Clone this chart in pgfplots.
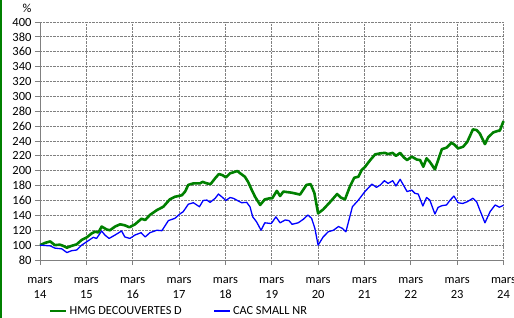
\documentclass[border=0pt]{standalone}
\usepackage{pgfplots}
\pgfplotsset{compat=1.18}
\usepackage{fontspec}
\setmainfont{Carlito}
\definecolor{hmg}{RGB}{0,128,0}
\definecolor{cac}{RGB}{0,0,255}
\definecolor{gridc}{RGB}{128,128,128}
\begin{document}
\begin{tikzpicture}[x=1bp,y=1bp]
\begin{axis}[
  name=ax,
  at={(40bp,58bp)}, anchor=south west,
  width=463.5bp, height=238bp, scale only axis=true,
  xmin=0, xmax=10, ymin=80, ymax=400,
  xtick={0,1,...,10},
  xticklabels={{mars\\14},{mars\\15},{mars\\16},{mars\\17},{mars\\18},{mars\\19},{mars\\20},{mars\\21},{mars\\22},{mars\\23},{mars\\24}},
  ytick={80,100,...,400},
  axis lines*=left,
  axis line style={gridc, line width=1bp},
  tick align=outside,
  major tick length=5bp,
  tick style={gridc, line width=0.8bp},
  grid=major,
  major grid style={gridc, densely dotted, line width=0.8bp},
  /pgf/number format/assume math mode=true,
  ticklabel style={font=\fontsize{12.5bp}{15bp}\selectfont, text=black},
  xticklabel style={align=center, yshift=-9bp},
  legend columns=2,
  legend style={draw=none, fill=none, at={(0.30,-0.214)}, anchor=center,
    font=\fontsize{12.3bp}{14bp}\selectfont, inner sep=0pt,
    /tikz/every even column/.append style={column sep=30bp}},
  legend image code/.code={\draw[#1] (0bp,0bp) -- (16bp,0bp);},
  clip=false,
]
\addplot[hmg, line width=2.6bp, line join=round] coordinates {
(0,100) (0.11,103) (0.22,105) (0.32,100) (0.43,100.6) (0.50,99) (0.58,96.5) (0.68,99) (0.79,101) (0.90,107)
(1.01,110.5) (1.12,116) (1.19,118) (1.26,117) (1.33,125) (1.44,121) (1.51,120) (1.62,125) (1.73,128) (1.83,126.6)
(1.93,124) (2.05,128) (2.19,135.5) (2.27,133.8) (2.37,140.5) (2.52,147) (2.66,151.6) (2.80,161.5) (2.91,165) (3.06,167)
(3.13,172) (3.20,181) (3.31,183) (3.45,183) (3.51,185) (3.60,183) (3.68,182) (3.78,190) (3.86,195.6) (3.94,194)
(4.01,191) (4.10,196.5) (4.21,198.7) (4.26,199.6) (4.31,197) (4.42,192) (4.49,185) (4.57,174) (4.64,165) (4.75,154)
(4.85,161.5) (4.96,163) (5.01,163) (5.11,173) (5.18,166) (5.25,172) (5.43,170.5) (5.61,168) (5.75,181) (5.84,182)
(5.92,170) (6.00,142.7) (6.11,148) (6.26,158) (6.41,168.7) (6.49,164) (6.58,161.5) (6.69,179.5) (6.78,190.6) (6.87,192)
(6.94,201) (7.01,205) (7.12,214) (7.23,222) (7.34,223.4) (7.44,224) (7.51,222.5) (7.61,224) (7.68,220) (7.77,224)
(7.85,218) (7.92,214.4) (8.02,219) (8.13,215) (8.20,214.4) (8.27,205.4) (8.34,216.7) (8.41,212) (8.52,201.8) (8.59,214.4)
(8.67,229) (8.77,231) (8.88,237.7) (8.95,234.6) (9.02,230) (9.13,232.3) (9.22,239) (9.34,255.6) (9.42,254.7) (9.49,250)
(9.60,235.8) (9.67,245) (9.78,251.6) (9.89,253.8) (9.92,253.8) (10.0,266.8)
};
\addlegendentry{HMG DECOUVERTES D}
\addplot[cac, line width=1.3bp, line join=round] coordinates {
(0,100) (0.22,99) (0.32,96) (0.47,95) (0.58,90) (0.68,92.5) (0.79,93.4) (0.90,100) (1.01,104.6) (1.15,110.5)
(1.22,109) (1.33,119) (1.40,113.6) (1.49,109) (1.62,113.6) (1.76,119) (1.83,111) (1.94,109) (2.05,113.6) (2.18,116.7)
(2.27,111) (2.37,116.7) (2.52,120) (2.63,119.4) (2.77,133) (2.91,136) (3.02,142) (3.09,145) (3.20,155) (3.31,157)
(3.44,151.6) (3.52,160) (3.60,160.6) (3.67,157.5) (3.78,163) (3.85,168.7) (3.94,164) (4.01,160) (4.10,164) (4.17,163)
(4.26,160) (4.35,157) (4.46,157.5) (4.53,151.6) (4.59,138) (4.67,131.5) (4.77,120) (4.85,130) (4.99,129) (5.09,138)
(5.18,130) (5.29,133.8) (5.37,133) (5.44,128) (5.57,130) (5.68,134.7) (5.78,140.5) (5.86,136) (5.93,122.6) (6.00,100)
(6.11,111) (6.22,118) (6.33,120) (6.44,125) (6.52,122.6) (6.60,118) (6.74,151.6) (6.87,160.6) (7.01,172) (7.16,182)
(7.26,177.7) (7.34,180.8) (7.43,186.6) (7.51,183) (7.61,186.6) (7.68,179.5) (7.77,188.5) (7.84,180.8) (7.92,172) (8.02,174)
(8.09,169.6) (8.16,168.7) (8.26,152.6) (8.34,164) (8.41,160.6) (8.52,141.8) (8.59,150.8) (8.67,153) (8.77,154) (8.85,160.6)
(8.93,166) (9.02,157) (9.12,156) (9.22,158.4) (9.34,163) (9.42,158.4) (9.49,147) (9.60,130) (9.71,145) (9.82,154)
(9.91,151) (10.0,153.5)
};
\addlegendentry{CAC SMALL NR}
\node[font=\fontsize{12.3bp}{14bp}\selectfont] at (rel axis cs:-0.028,1.059) {\%};
\end{axis}
\pgfresetboundingbox
\useasboundingbox (0,0) rectangle (514bp,318bp);
\fill[hmg] (0,0) rectangle (2bp,318bp);
\end{tikzpicture}
\end{document}
